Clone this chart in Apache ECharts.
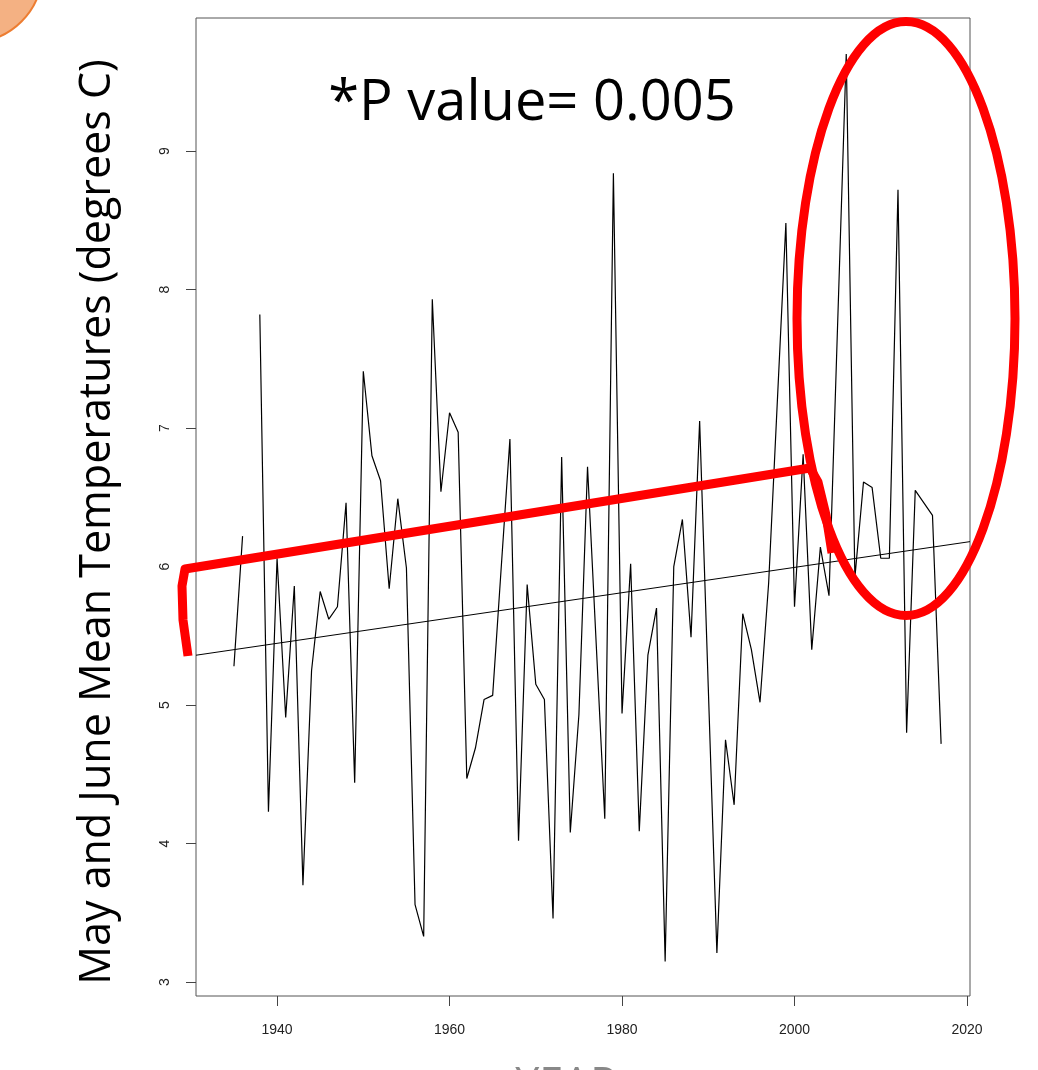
<!DOCTYPE html>
<html><head><meta charset="utf-8">
<script src="https://cdn.jsdelivr.net/npm/echarts@6/dist/echarts.min.js"></script>
<style>html,body{margin:0;padding:0;background:#fff}#c{width:1038px;height:1070px}</style>
</head><body><div id="c"></div>
<script>
const years = [1935,1936,1937,1938,1939,1940,1941,1942,1943,1944,1945,1946,1947,1948,1949,
  1950,1951,1952,1953,1954,1955,1956,1957,1958,1959,1960,1961,1962,1963,1964,1965,1966,1967,1968,1969,
  1970,1971,1972,1973,1974,1975,1976,1977,1978,1979,1980,1981,1982,1983,1984,1985,1986,1987,1988,1989,
  1990,1991,1992,1993,1994,1995,1996,1997,1998,1999,2000,2001,2002,2003,2004,2005,2006,2007,2008,2009,
  2010,2011,2012,2013,2014,2015,2016,2017];
const temps = [5.28,6.22,null,7.82,4.23,6.06,4.91,5.86,3.70,5.25,5.82,5.62,5.71,6.46,4.44,
  7.41,6.80,6.62,5.84,6.49,5.99,3.56,3.33,7.93,6.54,7.11,6.97,4.47,4.69,5.04,5.07,6.00,6.92,4.02,5.87,
  5.15,5.04,3.46,6.79,4.08,4.93,6.72,5.45,4.18,8.84,4.94,6.02,4.09,5.36,5.70,3.15,6.00,6.34,5.49,7.05,
  5.13,3.21,4.75,4.28,5.66,5.40,5.02,5.88,7.18,8.48,5.71,6.81,5.40,6.14,5.79,7.75,9.70,5.92,6.61,6.57,
  6.06,6.06,8.72,4.80,6.55,6.46,6.37,4.72];
const trendYears = [1930.6, 2020.35];
const trendTemps = [5.36, 6.18];
const xTickLabels = [1940, 1960, 1980, 2000, 2020];
const yTickLabels = [3, 4, 5, 6, 7, 8, 9];
const yTitle = 'May and June Mean Temperatures (degrees C)';
const xTitle = 'YEAR';
const pText = '*P value= 0.005';

const chart = echarts.init(document.getElementById('c'), null, {renderer: 'canvas'});
const lineData = years.map((y, i) => [y, temps[i]]);
const trendData = trendYears.map((y, i) => [y, trendTemps[i]]);

chart.setOption({
  animation: false,
  backgroundColor: '#fff',
  grid: {left: 196, right: 68, top: 18, bottom: 74, show: true, borderColor: '#555', borderWidth: 1},
  xAxis: {
    type: 'value', min: 1930.6, max: 2020.35,
    axisLine: {show: false}, splitLine: {show: false},
    axisTick: {show: true, length: 10, lineStyle: {color: '#444'}, customValues: xTickLabels},
    axisLabel: {customValues: xTickLabels, margin: 27, fontFamily: 'Liberation Sans', fontSize: 14, color: '#222',
      formatter: v => String(Math.round(v))}
  },
  yAxis: {
    type: 'value', min: 2.9, max: 9.96,
    axisLine: {show: false}, splitLine: {show: false},
    axisTick: {show: true, length: 10, lineStyle: {color: '#444'}, customValues: yTickLabels},
    axisLabel: {customValues: yTickLabels, margin: 24, rotate: 90, fontFamily: 'Liberation Sans', fontSize: 14, color: '#222',
      formatter: v => String(Math.round(v))}
  },
  series: [
    {type: 'line', data: lineData, showSymbol: false, connectNulls: false,
     lineStyle: {color: '#000', width: 1.2}, z: 3},
    {type: 'line', data: trendData, showSymbol: false,
     lineStyle: {color: '#000', width: 1}, z: 2}
  ],
  graphic: [
    {type: 'circle', shape: {cx: -28, cy: -28, r: 70}, style: {fill: '#F4B183', stroke: '#ED7D31', lineWidth: 2}, z: 100},
    {type: 'polyline', shape: {points: [[188,656],[183,620],[182,586],[185,569],[810,468],[818,482],[826,515],[832,553]]},
     style: {stroke: '#FF0000', lineWidth: 9, fill: null, lineJoin: 'round', lineCap: 'butt'}, z: 100},
    {type: 'ellipse', shape: {cx: 906, cy: 318.5, rx: 109, ry: 297},
     style: {stroke: '#FF0000', lineWidth: 9, fill: null}, z: 100},
    {type: 'text', x: 532, y: 104, style: {text: pText, font: '56px "Open Sans"', fill: '#000', align: 'center', verticalAlign: 'middle'}, z: 100},
    {type: 'text', x: 98, y: 522, rotation: Math.PI / 2, style: {text: yTitle, font: '43px "Open Sans"', fill: '#000', align: 'center', verticalAlign: 'middle'}, z: 100},
    {type: 'text', x: 566, y: 1064, style: {text: xTitle, font: '43px "Open Sans"', fill: '#888', align: 'center', verticalAlign: 'top'}, z: 100}
  ]
});
</script>
</body></html>
